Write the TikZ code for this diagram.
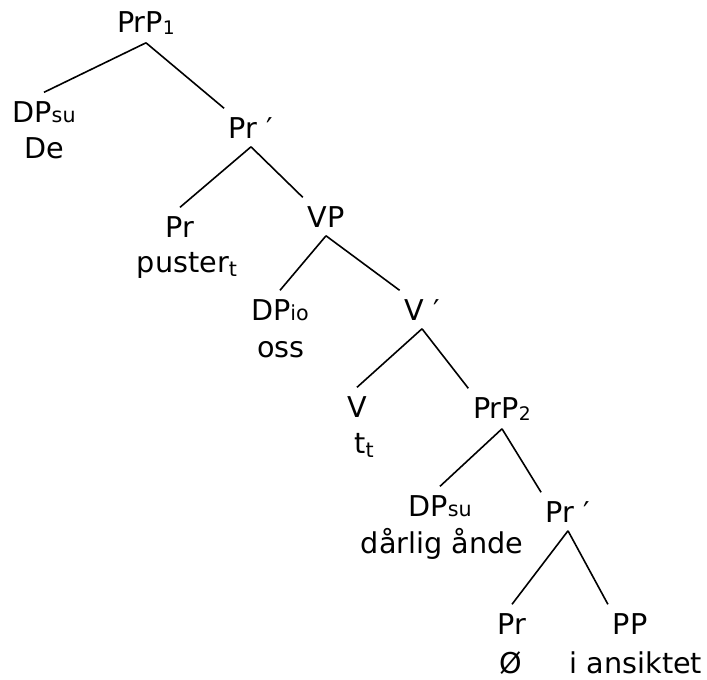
\documentclass[tikz,border=0pt]{standalone}
\usepackage{fontspec}
\setmainfont{DejaVu Sans}

\newcommand\sub[1]{{\fontsize{15.5}{15.5}\selectfont #1}}
\newcommand\trace[1]{\raisebox{-3pt}{\sub{#1}}}
\newcommand\num[1]{\raisebox{-1.5pt}{\fontsize{14}{14}\selectfont #1}}

\begin{document}
\begin{tikzpicture}[x=0.75pt, y=-0.75pt, line width=1.2pt,
  font=\fontsize{21.5}{26}\selectfont,
  cat/.style={anchor=base, inner xsep=3pt, inner ysep=6pt},
  word/.style={anchor=base, inner sep=0pt}]
  \useasboundingbox[fill=white] (0,0) rectangle (707,679);

  % upper PrP
  \node[cat] (p1)   at (146,32)  {PrP\num{1}};
  \node[cat] (dsu1) at (44,122)  {DP\sub{su}};
  \node[word] (de)  at (44,158)  {De};
  \node[cat] (prb1) at (251,138) {Pr ′};
  \node[cat] (pr1)  at (180,237) {Pr};
  \node[word] (pus) at (187,272) {puster\trace{t}};

  % VP
  \node[cat] (vp)   at (326,227) {VP};
  \node[cat] (dpio) at (280,320) {DP\sub{io}};
  \node[word] (oss) at (281,357) {oss};
  \node[cat] (vb)   at (422,320) {V ′};
  \node[cat] (v)    at (357,417) {V};
  \node[word] (tt)  at (364,453) {t\trace{t}};

  % lower PrP
  \node[cat] (p2)   at (502,418) {PrP\num{2}};
  \node[cat] (dsu2) at (440,516) {DP\sub{su}};
  \node[word] (aa)  at (442,553) {dårlig ånde};
  \node[cat] (prb2) at (568,522) {Pr ′};
  \node[cat] (pr2)  at (512,634) {Pr};
  \node[word] (oe)  at (511,673) {Ø};
  \node[cat] (pp)   at (630,634) {PP};
  \node[word] (ia)  at (636,673) {i ansiktet};

  % branches
  \draw (p1.south) -- (dsu1.north);
  \draw (p1.south) -- (prb1.north west);
  \draw (prb1.south) -- (pr1.north);
  \draw (prb1.south) -- (vp.north west);
  \draw (vp.south) -- (dpio.north);
  \draw (vp.south) -- (vb.north west);
  \draw (vb.south) -- (v.north);
  \draw (vb.south) -- (p2.north west);
  \draw (p2.south) -- (dsu2.north);
  \draw (p2.south) -- (prb2.north west);
  \draw (prb2.south) -- (pr2.north);
  \draw (prb2.south) -- (pp.north west);
\end{tikzpicture}
\end{document}
